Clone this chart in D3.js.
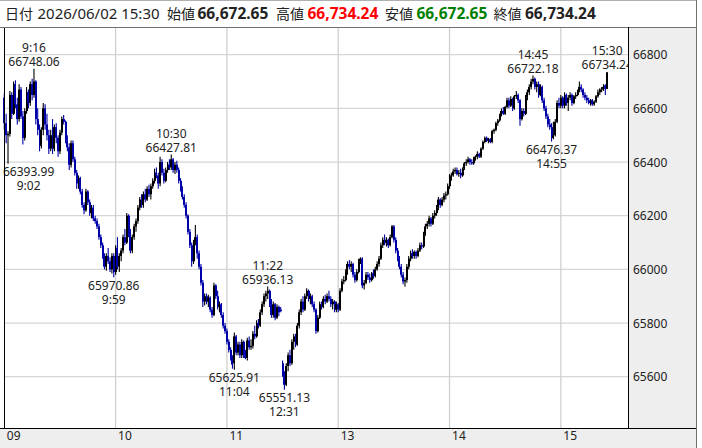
<!DOCTYPE html>
<html><head><meta charset="utf-8">
<script src="https://cdn.jsdelivr.net/npm/d3@7/dist/d3.min.js"></script>
<style>
html,body{margin:0;padding:0;background:#fff;}
svg text{font-family:"Noto Sans","Noto Sans CJK JP",sans-serif;}
</style></head>
<body>
<svg id="c" width="702" height="448"></svg>
<script>
// ---- data (1-minute bars, 2026/06/02) ----
const sessions = [["9:00","11:29"],["12:30","15:24"],["15:30","15:30"]];
const opens = [
66640,66545,66500,66505,66650,66580,66690,66615,66560,66670,
66570,66490,66590,66660,66620,66690,66650,66700,66560,66520,
66460,66520,66600,66540,66500,66450,66500,66450,66530,66490,
66440,66510,66560,66550,66480,66455,66390,66470,66410,66360,
66320,66340,66290,66240,66220,66290,66250,66210,66230,66190,
66180,66160,66120,66090,66050,66010,66050,66030,66000,66050,
65990,66080,66010,66050,66070,66120,66100,66200,66130,66070,
66120,66160,66180,66230,66260,66240,66280,66260,66300,66280,
66310,66330,66360,66350,66320,66400,66360,66330,66370,66390,
66380,66410,66370,66390,66370,66330,66300,66270,66240,66200,
66140,66090,66030,66100,66120,66060,66010,65950,65880,65900,
65880,65895,65850,65830,65940,65900,65860,65870,65830,65790,
65770,65730,65700,65670,65650,65750,65690,65720,65680,65730,
65680,65670,65735,65710,65715,65760,65750,65800,65790,65840,
65870,65900,65910,65920,65870,65830,65870,65820,65860,65850,
65650,65610,65570,65640,65680,65650,65730,65750,65720,65790,
65840,65880,65850,65900,65920,65890,65900,65870,65850,65770,
65820,65870,65860,65890,65880,65900,65890,65870,65880,65850,
65870,65850,65920,65955,65960,65990,66020,66010,66020,65980,
65960,65990,66030,66040,65940,65950,65980,65970,65960,65985,
65975,66000,66020,66040,66090,66110,66100,66110,66090,66120,
66160,66110,66070,66040,66010,65980,65955,65960,66010,66040,
66060,66050,66065,66050,66070,66090,66085,66130,66160,66170,
66190,66170,66200,66210,66230,66260,66240,66260,66275,66280,
66310,66345,66350,66365,66370,66355,66360,66350,66375,66395,
66400,66410,66400,66395,66415,66420,66430,66420,66450,66475,
66490,66480,66485,66475,66515,66520,66545,66555,66575,66590,
66580,66605,66630,66610,66635,66600,66645,66650,66630,66560,
66590,66580,66640,66660,66680,66700,66710,66680,66690,66650,
66680,66630,66600,66570,66540,66530,66490,66500,66550,66620,
66610,66640,66610,66650,66620,66640,66650,66620,66645,66650,
66665,66680,66670,66650,66640,66630,66620,66630,66615,66625,
66645,66660,66670,66675,66685,66672.65];
const highs = [
66655,66580,66515,66665,66660,66700,66705,66640,66690,66680,
66590,66600,66680,66670,66700,66710,66748.06,66705,66600,66540,
66530,66620,66615,66580,66520,66520,66560,66540,66545,66500,
66520,66570,66575,66555,66500,66470,66480,66480,66420,66370,
66350,66345,66300,66250,66300,66295,66260,66240,66240,66200,
66190,66170,66130,66100,66060,66060,66080,66045,66060,66060,
66090,66120,66060,66080,66130,66150,66210,66205,66150,66130,
66170,66190,66240,66270,66280,66290,66300,66310,66315,66320,
66340,66375,66380,66360,66420,66410,66375,66380,66400,66410,
66427.81,66415,66400,66405,66380,66340,66310,66280,66250,66205,
66150,66100,66110,66165,66130,66070,66020,65960,65910,65910,
65905,65900,65860,65950,65945,65920,65880,65875,65840,65800,
65780,65740,65710,65680,65765,65755,65730,65730,65740,65735,
65700,65745,65750,65740,65770,65790,65810,65815,65850,65880,
65910,65920,65936.13,65925,65890,65880,65875,65870,65865,65860,
65660,65620,65650,65690,65700,65740,65760,65760,65800,65850,
65890,65900,65910,65930,65925,65910,65905,65880,65855,65830,
65880,65880,65900,65905,65910,65920,65900,65890,65885,65880,
65875,65930,65965,65975,66000,66030,66035,66030,66025,65990,
66000,66040,66045,66045,65960,65990,65990,65985,65990,66000,
66010,66030,66050,66100,66120,66130,66120,66115,66130,66165,
66165,66120,66080,66050,66020,65990,65970,66020,66050,66070,
66075,66070,66070,66080,66100,66100,66140,66170,66180,66200,
66195,66210,66220,66240,66270,66265,66270,66285,66290,66320,
66355,66360,66375,66380,66380,66370,66375,66380,66400,66410,
66420,66415,66410,66420,66425,66440,66435,66455,66480,66495,
66495,66490,66490,66520,66525,66550,66560,66580,66600,66605,
66610,66640,66640,66645,66640,66650,66665,66655,66635,66600,
66600,66650,66670,66690,66710,66722.18,66715,66700,66700,66690,
66685,66640,66610,66580,66560,66545,66550,66560,66630,66640,
66650,66645,66660,66655,66650,66660,66655,66650,66660,66670,
66700,66690,66675,66660,66650,66640,66635,66635,66630,66650,
66670,66675,66680,66690,66690,66734.24];
const lows = [
66520,66470,66393.99,66495,66560,66575,66600,66540,66550,66560,
66465,66480,66580,66600,66610,66630,66640,66540,66500,66440,
66450,66500,66520,66480,66430,66440,66430,66440,66470,66420,
66430,66500,66540,66470,66440,66370,66380,66400,66350,66300,
66300,66280,66230,66205,66215,66240,66200,66190,66180,66170,
66150,66110,66080,66040,66000,65995,66020,65990,65985,65970.86,
65980,66000,65990,66030,66060,66090,66095,66120,66060,66060,
66110,66140,66170,66220,66230,66230,66250,66255,66270,66260,
66300,66320,66340,66300,66310,66350,66320,66325,66360,66370,
66370,66360,66355,66360,66320,66290,66260,66230,66190,66130,
66080,66010,66020,66090,66040,66000,65940,65860,65865,65870,
65860,65840,65820,65825,65890,65850,65840,65820,65780,65760,
65720,65690,65660,65630,65625.91,65680,65680,65670,65670,65670,
65665,65660,65700,65700,65705,65740,65745,65780,65785,65830,
65860,65880,65890,65860,65820,65820,65810,65815,65825,65840,
65600,65551.13,65565,65620,65640,65645,65700,65710,65715,65780,
65830,65840,65845,65890,65880,65870,65860,65840,65760,65765,
65815,65850,65855,65870,65875,65880,65860,65850,65840,65840,
65840,65845,65915,65945,65955,65980,66000,65990,65970,65950,
65955,65985,66020,65930,65925,65945,65960,65950,65955,65965,
65970,65995,66010,66035,66080,66090,66085,66080,66085,66115,
66100,66060,66030,66000,65970,65945,65935,65950,66000,66030,
66040,66040,66040,66045,66065,66075,66080,66125,66150,66160,
66160,66165,66190,66200,66220,66230,66235,66250,66260,66275,
66300,66330,66345,66355,66350,66345,66340,66345,66370,66385,
66395,66390,66390,66390,66405,66410,66415,66415,66445,66470,
66475,66470,66470,66470,66505,66515,66535,66550,66570,66575,
66575,66600,66600,66605,66590,66595,66635,66620,66535,66555,
66570,66575,66630,66650,66670,66690,66670,66660,66640,66645,
66620,66590,66560,66530,66520,66476.37,66485,66495,66545,66600,
66600,66600,66600,66610,66590,66630,66610,66615,66635,66645,
66660,66660,66640,66630,66620,66615,66610,66610,66610,66620,
66640,66650,66660,66665,66650,66672.65];
const closes = [
66545,66500,66505,66650,66580,66690,66615,66560,66670,66570,
66490,66590,66660,66620,66690,66650,66700,66560,66520,66460,
66520,66600,66540,66500,66450,66500,66450,66530,66490,66440,
66510,66560,66550,66480,66455,66390,66470,66410,66360,66320,
66340,66290,66240,66220,66290,66250,66210,66230,66190,66180,
66160,66120,66090,66050,66010,66050,66030,66000,66050,65990,
66080,66010,66050,66070,66120,66100,66200,66130,66070,66120,
66160,66180,66230,66260,66240,66280,66260,66300,66280,66310,
66330,66360,66350,66320,66400,66360,66330,66370,66390,66380,
66410,66370,66390,66370,66330,66300,66270,66240,66200,66140,
66090,66030,66100,66120,66060,66010,65950,65880,65900,65880,
65895,65850,65830,65940,65900,65860,65870,65830,65790,65770,
65730,65700,65670,65645,65750,65690,65720,65680,65730,65680,
65670,65735,65710,65715,65760,65750,65800,65790,65840,65870,
65900,65910,65920,65870,65830,65870,65820,65860,65840,65845,
65610,65570,65640,65680,65650,65730,65750,65720,65790,65840,
65880,65850,65900,65920,65890,65900,65870,65850,65770,65820,
65870,65860,65890,65880,65900,65890,65870,65880,65850,65870,
65850,65920,65955,65960,65990,66020,66010,66020,65980,65960,
65990,66030,66040,65940,65950,65980,65970,65960,65985,65975,
66000,66020,66040,66090,66110,66100,66110,66090,66120,66160,
66110,66070,66040,66010,65980,65955,65960,66010,66040,66060,
66050,66065,66050,66070,66090,66085,66130,66160,66170,66190,
66170,66200,66210,66230,66260,66240,66260,66275,66280,66310,
66345,66350,66365,66370,66355,66360,66350,66375,66395,66400,
66410,66400,66395,66415,66420,66430,66420,66450,66475,66490,
66480,66485,66475,66515,66520,66545,66555,66575,66590,66580,
66605,66630,66610,66635,66600,66645,66650,66630,66560,66590,
66580,66640,66660,66680,66700,66710,66680,66690,66650,66680,
66630,66600,66570,66540,66530,66490,66500,66550,66620,66610,
66640,66610,66650,66620,66640,66650,66620,66645,66650,66665,
66680,66670,66650,66640,66630,66620,66630,66615,66625,66645,
66660,66670,66675,66680,66672.65,66734.24];
const highMarks = [["9:16",66748.06],["10:30",66427.81],["11:22",65936.13],["14:45",66722.18],["15:30",66734.24]];
const lowMarks  = [["9:02",66393.99],["9:59",65970.86],["11:04",65625.91],["12:31",65551.13],["14:55",66476.37]];
const yTicks = [65600,65800,66000,66200,66400,66600,66800];
const xTickTimes  = ["9:00","10:00","11:00","13:00","14:00","15:00"];
const xTickLabels = ["09","10","11","13","14","15"];
const header = [
  {t:"日付", x:5, c:"#222", w:400, s:14},
  {t:"2026/06/02 15:30", x:37.5, c:"#222", w:400, s:15},
  {t:"始値", x:167, c:"#222", w:400, s:14},
  {t:"66,672.65", x:197.5, c:"#222", w:700, s:15.5},
  {t:"高値", x:276, c:"#222", w:400, s:14},
  {t:"66,734.24", x:307.5, c:"#ff0000", w:700, s:15.5},
  {t:"安値", x:385, c:"#222", w:400, s:14},
  {t:"66,672.65", x:416.5, c:"#008000", w:700, s:15.5},
  {t:"終値", x:493.5, c:"#222", w:400, s:14},
  {t:"66,734.24", x:525, c:"#222", w:700, s:15.5}
];

// ---- categories (minute labels of the bars) ----
function toMin(s){const [h,m]=s.split(":").map(Number);return h*60+m;}
function fmt(m){return Math.floor(m/60)+":"+String(m%60).padStart(2,"0");}
const times=[];
sessions.forEach(([a,b])=>{for(let m=toMin(a);m<=toMin(b);m++)times.push(fmt(m));});
const bars = times.map((t,i)=>({t,o:opens[i],h:highs[i],l:lows[i],c:closes[i]}));

// ---- layout ----
const W=702,H=448;
const plot={l:4,t:27,r:629,b:428};
const svg=d3.select("#c");
const x=d3.scalePoint().domain(times).range([4.3,607.2]);
const y=d3.scaleLinear().domain([65600,66800]).range([376.7,54.7]);

// panels
svg.append("rect").attr("x",0).attr("y",0).attr("width",W).attr("height",H).attr("fill","#fff");
svg.append("rect").attr("x",plot.r).attr("y",plot.t).attr("width",696-plot.r).attr("height",plot.b-plot.t).attr("fill","#eeeeee");
svg.append("rect").attr("x",0).attr("y",plot.b).attr("width",696).attr("height",H-plot.b).attr("fill","#eeeeee");

// grid
const g=svg.append("g");
g.selectAll("line.hy").data(yTicks).join("line")
  .attr("x1",plot.l).attr("x2",plot.r).attr("y1",d=>y(d)).attr("y2",d=>y(d))
  .attr("stroke","#d6d6d6").attr("stroke-width",1.3);
g.selectAll("line.vx").data(xTickTimes.slice(1)).join("line")
  .attr("x1",d=>x(d)).attr("x2",d=>x(d)).attr("y1",plot.t).attr("y2",plot.b)
  .attr("stroke","#d0d0d0").attr("stroke-width",1.3);

// y axis labels (right)
const yAxis=d3.axisRight(y).tickValues(yTicks).tickSize(0).tickPadding(0).tickFormat(d3.format("d"));
const ya=svg.append("g").attr("transform",`translate(${plot.r+4},0)`).call(yAxis);
ya.select(".domain").remove();
ya.selectAll("text").attr("font-size",12).attr("fill","#222").attr("x",0).attr("dy","0.35em")
  .style("font-family",'"Noto Sans",sans-serif');

// x axis labels (bottom)
svg.selectAll("text.xt").data(xTickTimes).join("text")
  .attr("x",(d)=>x(d)+2.5).attr("y",439.5).attr("font-size",12).attr("fill","#222")
  .text((d,i)=>xTickLabels[i]);

// candles
svg.append("clipPath").attr("id","pc").append("rect")
  .attr("x",0).attr("y",plot.t).attr("width",plot.r).attr("height",plot.b-plot.t);
const cg=svg.append("g").attr("clip-path","url(#pc)");
const col=d=>d.c>=d.o?"#000000":"#0000a8";
cg.selectAll("line.w").data(bars).join("line")
  .attr("x1",d=>x(d.t)).attr("x2",d=>x(d.t)).attr("y1",d=>y(d.h)).attr("y2",d=>y(d.l))
  .attr("stroke",col).attr("stroke-width",1.1);
cg.selectAll("rect.b").data(bars).join("rect")
  .attr("x",d=>Math.round(x(d.t)-1)).attr("width",2)
  .attr("y",d=>y(Math.max(d.o,d.c)))
  .attr("height",d=>Math.max(1.2,Math.abs(y(d.o)-y(d.c))))
  .attr("fill",col);

// annotations: one text element per mark, two lines as tspans
const lg=svg.append("g").attr("clip-path","url(#pc)");
function mark(lines, cx, y0){
  const t=lg.append("text").attr("text-anchor","middle").attr("font-size",12).attr("fill","#222");
  const spans=lines.map((s,k)=>t.append("tspan").attr("x",cx).attr("y",y0+k*14).text(s));
  const w=Math.max(...spans.map(sp=>sp.node().getComputedTextLength()));
  let c=cx; if(c-w/2<3) c=3+w/2;
  spans.forEach(sp=>sp.attr("x",c));
}
highMarks.forEach(([t,v])=>{ mark([t, v.toFixed(2)], x(t), y(v)-17); });
lowMarks.forEach(([t,v])=>{ mark([v.toFixed(2), t], x(t), y(v)+12.5); });

// frame lines
const fl=[[0,0.5,696,0.5,"#b0b0b0"],[4.5,plot.t,4.5,plot.b,"#000"],[0,plot.t+0.5,696,plot.t+0.5,"#707070"],
          [plot.r-0.5,plot.t,plot.r-0.5,plot.b,"#000"],[0,plot.b+0.5,696,plot.b+0.5,"#000"],[696.5,0,696.5,H,"#707070"]];
svg.selectAll("line.f").data(fl).join("line")
  .attr("x1",d=>d[0]).attr("y1",d=>d[1]).attr("x2",d=>d[2]).attr("y2",d=>d[3]).attr("stroke",d=>d[4]).attr("stroke-width",1);

// header
svg.selectAll("text.h").data(header).join("text")
  .attr("x",d=>d.x).attr("y",19).attr("font-size",d=>d.s).attr("font-weight",d=>d.w).attr("fill",d=>d.c)
  .text(d=>d.t);
</script>
</body></html>
